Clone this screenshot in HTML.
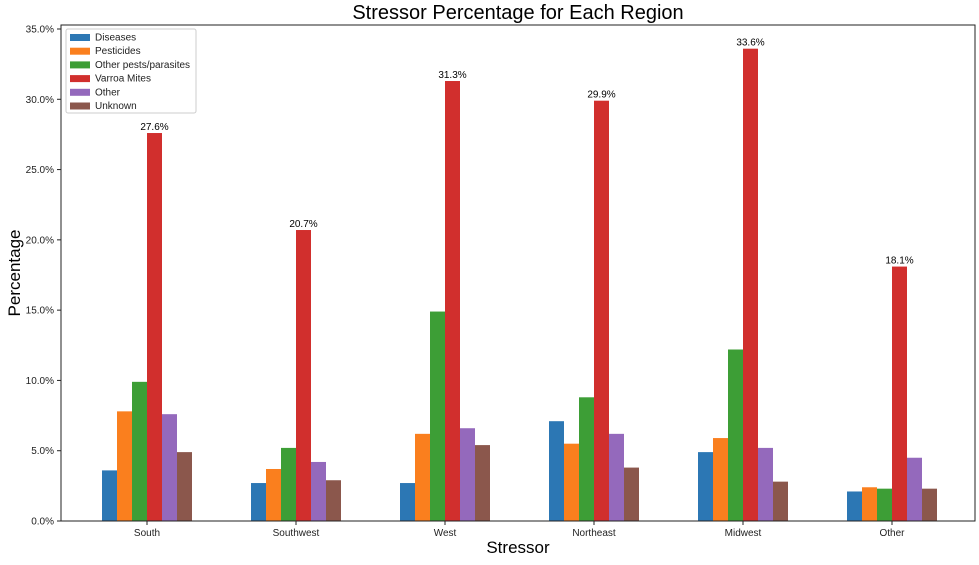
<!DOCTYPE html>
<html><head><meta charset="utf-8"><style>
body{margin:0;background:#fff;}
svg{font-family:"Liberation Sans","DejaVu Sans",sans-serif;}
</style></head><body>
<svg id="chart" width="979" height="560"></svg>
<script>
const categories=["South","Southwest","West","Northeast","Midwest","Other"];
const seriesNames=["Diseases","Pesticides","Other pests/parasites","Varroa Mites","Other","Unknown"];
const diseases=[3.6,2.7,2.7,7.1,4.9,2.1];
const pesticides=[7.8,3.7,6.2,5.5,5.9,2.4];
const otherPests=[9.9,5.2,14.9,8.8,12.2,2.3];
const varroa=[27.6,20.7,31.3,29.9,33.6,18.1];
const other=[7.6,4.2,6.6,6.2,5.2,4.5];
const unknown=[4.9,2.9,5.4,3.8,2.8,2.3];
const yTicks=[0,5,10,15,20,25,30,35];
const series=[diseases,pesticides,otherPests,varroa,other,unknown];
const colors=["#2c77b4","#fa7f1e","#3d9e36","#d12f2d","#9469bc","#8b574c"];
const NS="http://www.w3.org/2000/svg";
const svg=document.getElementById('chart');
const L=61,R=975,T=25,B=521;
function y(v){return B-(v/35)*(B-29);}
function xc(i){return 147+149*i;}
const bw=15;
function mk(t,a,p){const e=document.createElementNS(NS,t);for(const k in a)e.setAttribute(k,a[k]);(p||svg).appendChild(e);return e;}
series.forEach((s,si)=>{s.forEach((v,i)=>{
 const x=xc(i)-45+si*bw;
 const r=mk('rect',{x:x,y:y(v),width:bw,height:B-y(v),fill:colors[si]});
 
 
 if(si===3){const t=mk('text',{x:x+bw/2,y:y(v)-3,'text-anchor':'middle','font-size':10,fill:'#000'});t.textContent=v.toFixed(1)+'%';
 
 }
});});
const f=mk('rect',{x:L,y:T,width:R-L,height:B-T,fill:'none',stroke:'#222','stroke-width':1});


yTicks.forEach(v=>{mk('line',{x1:L-4,x2:L,y1:y(v),y2:y(v),stroke:'#222'});
 const t=mk('text',{x:L-7,y:y(v)+3.5,'text-anchor':'end','font-size':10,fill:'#222'});t.textContent=v.toFixed(1)+'%';
 
 });
categories.forEach((c,i)=>{mk('line',{x1:xc(i),x2:xc(i),y1:B,y2:B+4,stroke:'#222'});
 const t=mk('text',{x:xc(i),y:B+15,'text-anchor':'middle','font-size':10,fill:'#222'});t.textContent=c;
 
 });
let t=mk('text',{x:518,y:19,'text-anchor':'middle','font-size':20,fill:'#000'});t.textContent='Stressor Percentage for Each Region';


t=mk('text',{x:518,y:553,'text-anchor':'middle','font-size':17,fill:'#000'});t.textContent='Stressor';


t=mk('text',{x:20,y:273,'text-anchor':'middle','font-size':17,fill:'#000',transform:'rotate(-90 20 273)'});t.textContent='Percentage';


const g=mk('g',{});


mk('rect',{x:66,y:29,width:130,height:84,rx:2,fill:'#fff',stroke:'#ccc'},g);
seriesNames.forEach((n,i)=>{const yy=37+i*13.7;
 mk('rect',{x:70,y:yy-3,width:20,height:7,fill:colors[i]},g);
 const tt=mk('text',{x:95,y:yy+3.5,'font-size':10,fill:'#222'},g);tt.textContent=n;
 
 });
</script>
</body></html>
